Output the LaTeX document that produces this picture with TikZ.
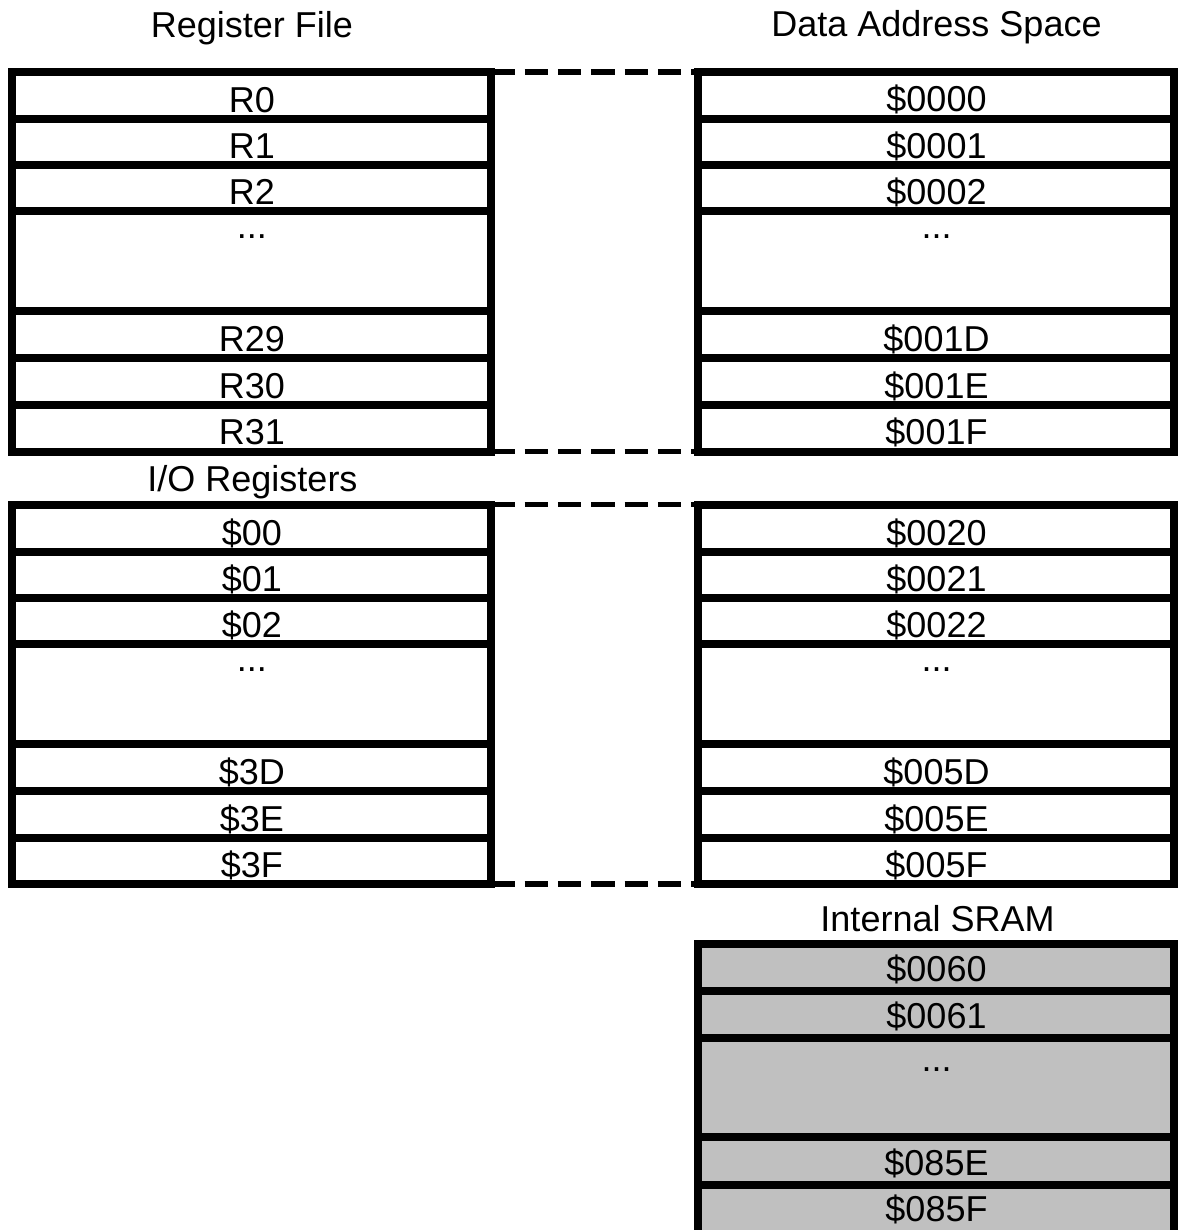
\documentclass[tikz,border=0pt]{standalone}
\usepackage{fontspec}
\setmainfont{Liberation Sans}
\definecolor{sramgray}{RGB}{192,192,192}
\newcommand\tdots{...}
\begin{document}
\begin{tikzpicture}[x=1pt,y=-1pt,
  blk/.style={rectangle, draw=black, line width=8pt, fill=white, inner sep=0pt, outer sep=0pt},
  sepline/.style={line width=8pt, line cap=butt},
  celltxt/.style={anchor=base, inner sep=0pt, outer sep=0pt, font=\fontsize{36}{40}\selectfont},
  link/.style={line width=5.5pt, line cap=butt, dash pattern=on 23.3pt off 10pt}]

\fill[white] (0,0) rectangle (1178,1230);
\useasboundingbox (0,0) rectangle (1178,1230);
\clip (0,0) rectangle (1178,1230);

% ---------- titles ----------
\node[celltxt] (trf)   at (251.8,37.5)  {Register File};
\node[celltxt] (tdas)  at (936.5,37)    {Data Address Space};
\node[celltxt] (tio)   at (252.5,491.5) {I/O Registers};
\node[celltxt] (tsram) at (937.5,931.5) {Internal SRAM};

% ---------- blocks ----------
\node[blk, minimum width=479.3pt, minimum height=379.5pt] (rf)    at (251.65,261.75) {};
\node[blk, minimum width=476pt,   minimum height=379.5pt] (das)   at (936,261.75) {};
\node[blk, minimum width=479.3pt, minimum height=379.5pt] (io)    at (251.65,694.25) {};
\node[blk, minimum width=476pt,   minimum height=379.5pt] (dasio) at (936,694.25) {};
\node[blk, fill=sramgray, minimum width=476pt, minimum height=292.5pt] (sram) at (936,1089.75) {};

% ---------- row separators ----------
\foreach \y in {119,165,211.5,311,358,405}{
  \draw[sepline] (12,\y) -- (491.3,\y);
  \draw[sepline] (698,\y) -- (1174,\y);
}
\foreach \y in {551.5,597.5,644,743.5,790.5,837.5}{
  \draw[sepline] (12,\y) -- (491.3,\y);
  \draw[sepline] (698,\y) -- (1174,\y);
}
\foreach \y in {991,1037.5,1137,1184.5}{
  \draw[sepline] (698,\y) -- (1174,\y);
}

% ---------- dashed links ----------
\draw[link] (rf.north east) -- (das.north west);
\draw[link] (rf.south east) -- (das.south west);
\draw[link] (io.north east) -- (dasio.north west);
\draw[link] (io.south east) -- (dasio.south west);

% ---------- cell texts ----------
\foreach \t/\y [count=\i] in {R0/112.5, R1/158.5, R2/205, \tdots/238.5, R29/351.5, R30/398.5, R31/444.5}
  \node[celltxt] (rf\i) at (251.8,\y) {\t};
\foreach \t/\y [count=\i] in {\$0000/112, \$0001/158.5, \$0002/205, \tdots/238.5, \$001D/351.5, \$001E/398.5, \$001F/444.5}
  \node[celltxt] (das\i) at (936.5,\y) {\t};
\foreach \t/\y [count=\i] in {\$00/545, \$01/591, \$02/637.5, \tdots/671, \$3D/784, \$3E/831, \$3F/877}
  \node[celltxt] (io\i) at (251.8,\y) {\t};
\foreach \t/\y [count=\i] in {\$0020/545, \$0021/591, \$0022/637.5, \tdots/671, \$005D/784, \$005E/831, \$005F/877}
  \node[celltxt] (dasio\i) at (936.5,\y) {\t};
\foreach \t/\y [count=\i] in {\$0060/981.5, \$0061/1028, \tdots/1071, \$085E/1175, \$085F/1221.5}
  \node[celltxt] (sram\i) at (936.5,\y) {\t};
\end{tikzpicture}
\end{document}
